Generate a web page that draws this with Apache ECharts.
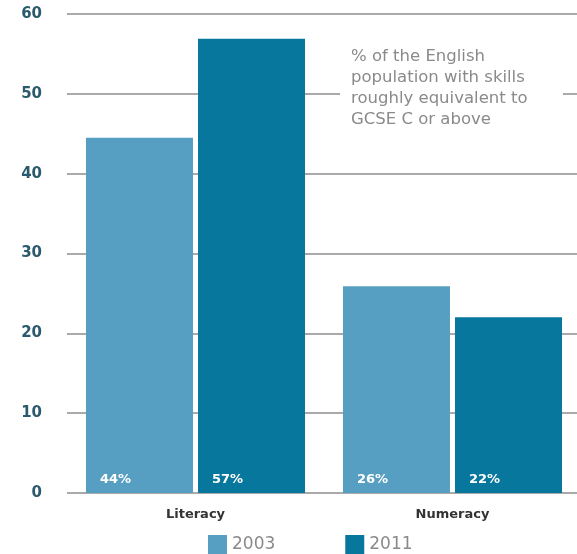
<!DOCTYPE html>
<html>
<head>
<meta charset="utf-8">
<script src="https://cdn.jsdelivr.net/npm/echarts@6/dist/echarts.min.js"></script>
<style>
  html, body { margin: 0; padding: 0; background: #fff; }
  #chart { width: 577px; height: 554px; }
</style>
</head>
<body>
<div id="chart"></div>
<script>
// skills levels, % of English population
var categories = ['Literacy', 'Numeracy'];
var years = ['2003', '2011'];
var values2003 = [44.5, 25.9];
var values2011 = [56.9, 22];
var labels2003 = ['44%', '26%'];
var labels2011 = ['57%', '22%'];

var myChart = echarts.init(document.getElementById('chart'));

function barLabel(texts) {
    return {
        show: true,
        position: 'insideBottomLeft',
        distance: 7,
        offset: [7, 0],
        color: '#fff',
        fontFamily: 'DejaVu Sans',
        fontWeight: 'bold',
        fontSize: 13,
        formatter: function (p) { return texts[p.dataIndex]; }
    };
}

myChart.setOption({
    color: ['#579fc2', '#08779d'],
    animation: false,
    grid: { left: 67, top: 14, width: 514, height: 479, outerBoundsMode: 'none' },
    legend: {
        left: 208,
        top: 535,
        padding: 0,
        itemWidth: 19,
        itemHeight: 19,
        itemGap: 70,
        icon: 'rect',
        textStyle: { color: '#8a8a8a', fontSize: 17, fontFamily: 'DejaVu Sans', padding: [2, 0, 0, 0] },
        data: years
    },
    xAxis: {
        type: 'category',
        data: categories,
        axisLine: { show: false },
        axisTick: { show: false },
        axisLabel: {
            margin: 15,
            color: '#333',
            fontSize: 13,
            fontWeight: 'bold',
            fontFamily: 'DejaVu Sans'
        }
    },
    yAxis: {
        type: 'value',
        min: 0,
        max: 60,
        interval: 10,
        axisLine: { show: false },
        axisTick: { show: false },
        axisLabel: {
            margin: 25,
            color: '#2b5a6e',
            fontSize: 15,
            fontWeight: 'bold',
            fontFamily: 'DejaVu Sans'
        },
        splitLine: { lineStyle: { color: '#aaaaaa', width: 2 } }
    },
    graphic: [{
        type: 'rect',
        shape: { x: 340, y: 40, width: 223, height: 92 },
        style: { fill: '#fff' },
        z: 10
    }, {
        type: 'text',
        left: 351,
        top: 46,
        z: 11,
        style: {
            text: '% of the English\npopulation with skills\nroughly equivalent to\nGCSE C or above',
            fill: '#8a8a8a',
            fontSize: 16.5,
            fontFamily: 'DejaVu Sans',
            lineHeight: 21
        }
    }],
    series: [{
        name: '2003',
        type: 'bar',
        barWidth: 107,
        barGap: '4.7%',
        data: values2003,
        label: barLabel(labels2003)
    }, {
        name: '2011',
        type: 'bar',
        barWidth: 107,
        data: values2011,
        label: barLabel(labels2011)
    }]
});
</script>
</body>
</html>
